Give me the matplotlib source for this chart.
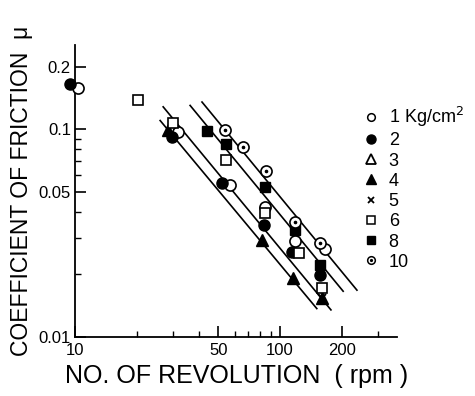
import matplotlib
matplotlib.use("Agg")
import matplotlib.pyplot as plt
from matplotlib.lines import Line2D
from matplotlib.legend_handler import HandlerTuple
from matplotlib.ticker import FixedLocator, FixedFormatter, NullFormatter

plt.rcParams['font.family'] = ['Liberation Sans', 'DejaVu Sans']

# friction coefficient vs. revolution speed, one series per contact pressure
rpm_1 = [10.3, 31.8, 57.0, 84.5, 118, 166]
mu_1 = [0.157, 0.097, 0.054, 0.042, 0.029, 0.0265]

rpm_2 = [9.45, 29.7, 52.1, 83.6, 114, 157]
mu_2 = [0.164, 0.0915, 0.055, 0.0345, 0.0256, 0.0199]

rpm_4 = [28.4, 81.7, 116, 160]
mu_4 = [0.099, 0.0293, 0.0192, 0.0154]

rpm_5 = [160]
mu_5 = [0.0154]

rpm_6 = [20.3, 30.1, 54.5, 84.5, 124, 160]
mu_6 = [0.138, 0.107, 0.071, 0.0395, 0.0253, 0.0172]

rpm_8 = [44.0, 54.5, 84.5, 118, 157]
mu_8 = [0.098, 0.0847, 0.0526, 0.0327, 0.0222]

rpm_10 = [53.9, 66.0, 85.5, 118, 157]
mu_10 = [0.099, 0.082, 0.0628, 0.0357, 0.0283]

# parallel fitted lines (end points)
fit_rpm = [[26.0, 151], [26.9, 177], [36.4, 203], [41.6, 237]]
fit_mu = [[0.110, 0.0137], [0.128, 0.0135], [0.130, 0.0166], [0.135, 0.0168]]

legend_labels = ['1 Kg/cm$^2$', '2', '3', '4', '5', '6', '8', '10']

fig = plt.figure(figsize=(4.75, 3.96), dpi=100)
ax = fig.add_axes([0.158, 0.149, 0.678, 0.737])

for xs, ys in zip(fit_rpm, fit_mu):
    ax.plot(xs, ys, color='black', lw=1.2, zorder=1)

ms = 8
k = dict(color='black', linestyle='none', zorder=3, clip_on=False)
ax.plot(rpm_1, mu_1, marker='o', ms=ms, mfc='white', mec='black', mew=1.2, **k)
ax.plot(rpm_2, mu_2, marker='o', ms=ms, mfc='black', mec='black', **k)
ax.plot(rpm_4, mu_4, marker='^', ms=ms + 0.5, mfc='black', mec='black', **k)
ax.plot(rpm_6, mu_6, marker='s', ms=ms - 0.5, mfc='white', mec='black', mew=1.2, **k)
ax.plot(rpm_8, mu_8, marker='s', ms=ms - 0.5, mfc='black', mec='black', **k)
ax.plot(rpm_10, mu_10, marker='o', ms=ms, mfc='white', mec='black', mew=1.2, **k)
ax.plot(rpm_10, mu_10, marker='o', ms=1.6, mfc='black', mec='black', **k)
ax.plot(rpm_5, mu_5, marker='x', ms=6, mec='black', mew=1.4, **k)

ax.set_xscale('log')
ax.set_yscale('log')
ax.set_xlim(10, 372)
ax.set_ylim(0.01, 0.2535)

ax.xaxis.set_major_locator(FixedLocator([10, 50, 100, 200]))
ax.xaxis.set_major_formatter(FixedFormatter(['10', '50', '100', '200']))
ax.xaxis.set_minor_locator(FixedLocator([20, 30, 40, 60, 70, 80, 90, 300]))
ax.xaxis.set_minor_formatter(NullFormatter())
ax.yaxis.set_major_locator(FixedLocator([0.01, 0.05, 0.1, 0.2]))
ax.yaxis.set_major_formatter(FixedFormatter(['0.01', '0.05', '0.1', '0.2']))
ax.yaxis.set_minor_locator(FixedLocator([0.02, 0.03, 0.04, 0.06, 0.07, 0.08, 0.09]))
ax.yaxis.set_minor_formatter(NullFormatter())

ax.tick_params(which='major', direction='in', length=8, width=1.2, labelsize=12, pad=4)
ax.tick_params(which='minor', direction='in', length=4, width=1.0)
ax.tick_params(axis='y', which='major', pad=3)

for side in ('top', 'right'):
    ax.spines[side].set_visible(False)
for side in ('left', 'bottom'):
    ax.spines[side].set_linewidth(1.3)

ax.set_xlabel('NO. OF REVOLUTION  ( rpm )', fontsize=18, labelpad=5)
ax.set_ylabel('COEFFICIENT OF FRICTION  \u03bc', fontsize=16.5, labelpad=4)

lm = 5.5
h = [
    Line2D([], [], ls='none', marker='o', ms=lm, mfc='white', mec='black', mew=1.1),
    Line2D([], [], ls='none', marker='o', ms=lm + 1, mfc='black', mec='black'),
    Line2D([], [], ls='none', marker='^', ms=lm + 1, mfc='white', mec='black', mew=1.3),
    Line2D([], [], ls='none', marker='^', ms=lm + 2, mfc='black', mec='black'),
    Line2D([], [], ls='none', marker='x', ms=lm - 0.5, mec='black', mew=1.3),
    Line2D([], [], ls='none', marker='s', ms=lm, mfc='white', mec='black', mew=1.1),
    Line2D([], [], ls='none', marker='s', ms=lm + 0.5, mfc='black', mec='black'),
    (Line2D([], [], ls='none', marker='o', ms=lm, mfc='white', mec='black', mew=1.1),
     Line2D([], [], ls='none', marker='o', ms=1.3, mfc='black', mec='black')),
]
fig.legend(h, legend_labels, loc='upper left', bbox_to_anchor=(0.765, 0.735),
           frameon=False, fontsize=13, handlelength=0.8, handletextpad=0.6,
           labelspacing=0.18, borderpad=0, borderaxespad=0,
           handler_map={tuple: HandlerTuple(ndivide=1, pad=0)})

fig.savefig('out.png', dpi=100)
